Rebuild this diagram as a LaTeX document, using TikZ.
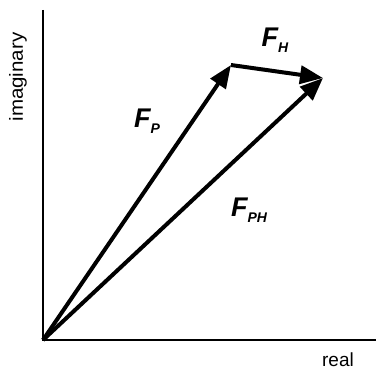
\documentclass[tikz,border=0pt]{standalone}
\usepackage{fontspec}
\setmainfont{Liberation Sans}
\usepackage{tikz}
\usetikzlibrary{arrows.meta,positioning}
\tikzstyle{axis}=[line width=1.8pt]
\tikzstyle{vec}=[line width=4pt,-{Triangle[length=23pt,width=18pt]}]
\tikzstyle{vlab}=[font=\fontsize{27}{27}\selectfont\bfseries\itshape,inner sep=0pt]
\tikzstyle{axlab}=[font=\fontsize{19}{19}\selectfont,inner sep=0pt]
\newcommand{\fsub}[1]{F\raisebox{-6pt}{\fontsize{14}{14}\selectfont #1}}

\begin{document}
\begin{tikzpicture}[x=1pt,y=-1pt]
\useasboundingbox (0,0) rectangle (376,371);
\coordinate (O) at (43,340);
\coordinate (ytop) at (43,10);
\coordinate (xend) at (376,340);
\coordinate (P) at (231,65);
\coordinate (H) at (323,78);
\draw [axis] (ytop) -- (O) -- (xend);
\draw [vec] (O) -- (P);
\draw [vec] (P) -- (H);
\draw [vec] (O) -- (H);
\node (fp) [vlab] at (147,121) {\fsub{P}};
\node (fh) [vlab] at (275,40) {\fsub{H}};
\node (fph) [vlab] at (249,210) {\fsub{PH}};
\node (re) [axlab] at (338,360) {real};
\node (im) [axlab,rotate=90,xscale=1.08] at (18,77) {imaginary};
\end{tikzpicture}
\end{document}
